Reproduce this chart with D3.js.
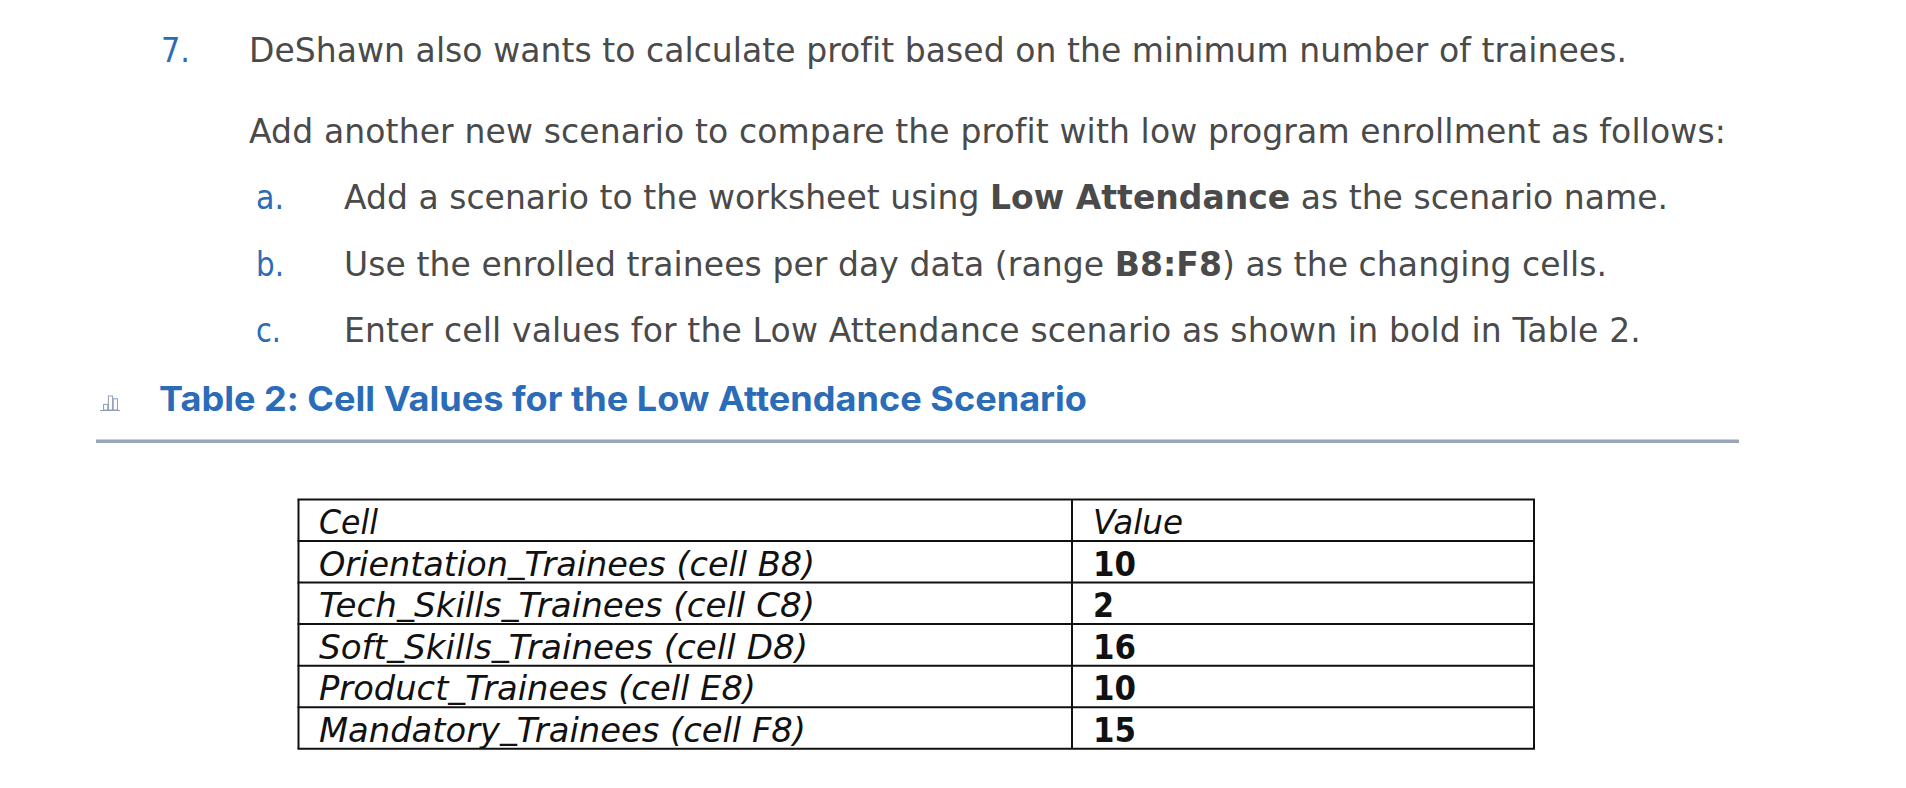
<!DOCTYPE html>
<html>

<head>
    <meta charset="UTF-8">
    <style>
        html, body { margin: 0; padding: 0; background: #fff; overflow: hidden; }
        text { white-space: pre; }
    </style>
    <script src="https://d3js.org/d3.v7.min.js"></script>
</head>

<body>
    <svg></svg>

    <script>
        // Table values
        let cellNames = [
            "Orientation_Trainees (cell B8)",
            "Tech_Skills_Trainees (cell C8)",
            "Soft_Skills_Trainees (cell D8)",
            "Product_Trainees (cell E8)",
            "Mandatory_Trainees (cell F8)"
        ];
        let cellValues = [10, 2, 16, 10, 15];
        let tableHeaders = ["Cell", "Value"];

        // Instruction text, each run is [text, bold]
        let stepMarkers = ["7.", "", "a.", "b.", "c."];
        let stepRuns = [
            [["DeShawn also wants to calculate profit based on the minimum number of trainees.", false]],
            [["Add another new scenario to compare the profit with low program enrollment as follows:", false]],
            [["Add a scenario to the worksheet using ", false], ["Low Attendance", true], [" as the scenario name.", false]],
            [["Use the enrolled trainees per day data (range ", false], ["B8:F8", true], [") as the changing cells.", false]],
            [["Enter cell values for the Low Attendance scenario as shown in bold in Table 2.", false]]
        ];
        let tableTitle = "Table 2: Cell Values for the Low Attendance Scenario";
        let iconBars = [2, 5, 4];

        let width = 1906, height = 788;
        let bodyFont = "'DejaVu Sans', sans-serif";
        let blue = "#2b6cb8", grey = "#4a4a4a";

        let svg = d3.select("svg")
            .attr("width", width)
            .attr("height", height)
            .style("display", "block");

        // Squeeze or stretch a text so that it ends where the original does
        function fitTo(selection, startX, endX) {
            selection
                .attr("lengthAdjust", "spacingAndGlyphs")
                .attr("textLength", (d, i) => endX(i) - startX(i));
        }

        // Instruction lines
        let stepBaseline = [62, 143, 209, 276, 342];
        let stepText = [249, 249, 344, 344, 344];
        let stepEnd = [1627, 1726, 1668, 1607, 1641];
        let markerX = [161, 161, 256, 256, 256];
        let markerEnd = [190, 161, 284, 284, 281];

        svg.append("g").selectAll("text")
            .data(stepMarkers)
            .enter()
            .append("text")
            .attr("x", (d, i) => markerX[i])
            .attr("y", (d, i) => stepBaseline[i])
            .attr("font-family", bodyFont)
            .attr("font-size", 33)
            .attr("fill", blue)
            .text(d => d)
            .filter(d => d != "")
            .attr("lengthAdjust", "spacingAndGlyphs")
            .attr("textLength", d => markerEnd[stepMarkers.indexOf(d)] - markerX[stepMarkers.indexOf(d)]);

        svg.append("g").selectAll("text")
            .data(stepRuns)
            .enter()
            .append("text")
            .attr("x", (d, i) => stepText[i])
            .attr("y", (d, i) => stepBaseline[i])
            .attr("font-family", bodyFont)
            .attr("font-size", 33)
            .attr("fill", grey)
            .each(function (d, i) {
                let line = d3.select(this);
                line.selectAll("tspan")
                    .data(d)
                    .enter()
                    .append("tspan")
                    .attr("font-weight", r => r[1] ? "bold" : "normal")
                    .text(r => r[0]);
                // letter spacing keeps the bold runs where they belong
                let extra = stepEnd[i] - stepText[i] - this.getComputedTextLength();
                let chars = d3.sum(d, r => r[0].length);
                line.attr("letter-spacing", extra / chars);
            });

        // Title, icon and rule
        svg.append("text")
            .attr("x", 159)
            .attr("y", 411)
            .attr("font-family", "Inter, sans-serif")
            .attr("font-weight", "bold")
            .attr("font-size", 34)
            .attr("fill", blue)
            .style("font-feature-settings", "'calt' 0")
            .text(tableTitle)
            .attr("lengthAdjust", "spacingAndGlyphs")
            .attr("textLength", 1087 - 159);

        let iconX = d3.scaleBand().domain(d3.range(iconBars.length)).range([103, 118]).padding(0.12);
        let iconY = d3.scaleLinear().domain([0, 5]).range([410, 396]);

        svg.append("g").selectAll("rect")
            .data(iconBars)
            .enter()
            .append("rect")
            .attr("x", (d, i) => iconX(i))
            .attr("y", d => iconY(d))
            .attr("width", iconX.bandwidth())
            .attr("height", d => iconY(0) - iconY(d))
            .attr("fill", "none")
            .attr("stroke", "#8d9db3")
            .attr("stroke-width", 1);

        svg.append("line")
            .attr("x1", 100).attr("x2", 120)
            .attr("y1", 410.5).attr("y2", 410.5)
            .attr("stroke", "#8d9db3")
            .attr("stroke-width", 1);

        svg.append("rect")
            .attr("x", 96)
            .attr("y", 439.5)
            .attr("width", 1643)
            .attr("height", 3.5)
            .attr("fill", "#99a5b4");

        // Table
        let rowNames = [tableHeaders[0]].concat(cellNames);
        let rowValues = [tableHeaders[1]].concat(cellValues);
        let rowY = d3.scaleBand().domain(d3.range(rowNames.length)).range([499.5, 748.7]);
        let tableLeft = 298.5, tableDivider = 1072, tableRight = 1534;
        let nameStart = 319, valueStart = 1093;
        let nameEnd = [378, 815, 815, 808, 756, 806];
        let valueEnd = [1183, 1136, 1114, 1136, 1136, 1136];
        let underscoreLift = 3.5;

        svg.append("g").selectAll("line")
            .data(d3.range(rowNames.length + 1))
            .enter()
            .append("line")
            .attr("x1", tableLeft - 1)
            .attr("x2", tableRight + 1)
            .attr("y1", d => rowY.range()[0] + d * rowY.step())
            .attr("y2", d => rowY.range()[0] + d * rowY.step())
            .attr("stroke", "#111")
            .attr("stroke-width", 2);

        svg.append("g").selectAll("line")
            .data([tableLeft, tableDivider, tableRight])
            .enter()
            .append("line")
            .attr("x1", d => d)
            .attr("x2", d => d)
            .attr("y1", rowY.range()[0])
            .attr("y2", rowY.range()[1])
            .attr("stroke", "#111")
            .attr("stroke-width", 2);

        // Underscores sit higher than in DejaVu, otherwise they vanish into the row lines
        svg.append("g").selectAll("text")
            .data(rowNames)
            .enter()
            .append("text")
            .attr("x", nameStart)
            .attr("y", (d, i) => rowY(i) + rowY.bandwidth() - 7)
            .attr("font-family", bodyFont)
            .attr("font-style", "italic")
            .attr("font-size", 33)
            .attr("fill", "#111")
            .call(fitTo, () => nameStart, i => nameEnd[i])
            .selectAll("tspan")
            .data(d => d.split(/(_)/))
            .enter()
            .append("tspan")
            .attr("dy", (d, i) => d == "_" ? -underscoreLift : (i > 0 ? underscoreLift : 0))
            .text(d => d);

        svg.append("g").selectAll("text")
            .data(rowValues)
            .enter()
            .append("text")
            .attr("x", valueStart)
            .attr("y", (d, i) => rowY(i) + rowY.bandwidth() - 7)
            .attr("font-family", bodyFont)
            .attr("font-style", (d, i) => i == 0 ? "italic" : "normal")
            .attr("font-weight", (d, i) => i == 0 ? "normal" : "bold")
            .attr("font-size", 33)
            .attr("fill", "#111")
            .text(d => d)
            .call(fitTo, () => valueStart, i => valueEnd[i]);
    </script>

</body>

</html>
